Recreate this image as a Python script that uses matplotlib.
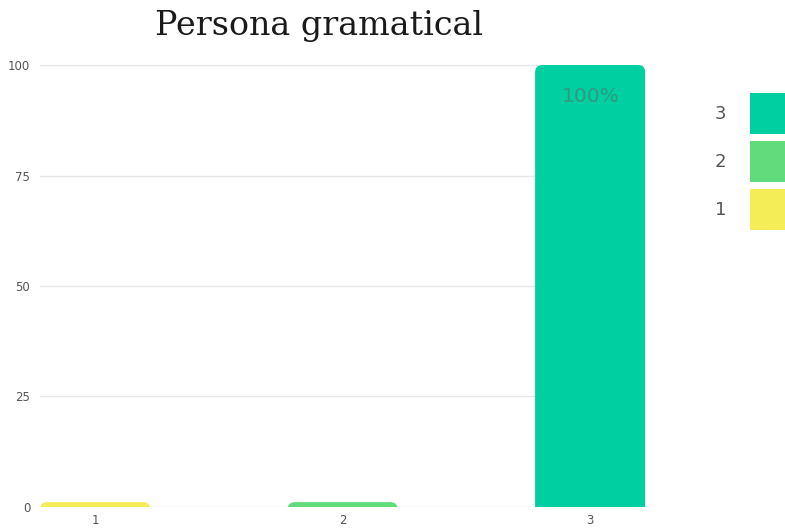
import matplotlib
matplotlib.use("Agg")
import matplotlib.pyplot as plt
from matplotlib.patches import FancyBboxPatch, Patch

# Datos del gráfico
categorias = ["1", "2", "3"]
porcentajes = [0, 0, 100]
colores = ["#f4ed58", "#62db7c", "#00cfa1"]
yticks = [0, 25, 50, 75, 100]

TEXTO_TICKS = "#555555"

fig = plt.figure(figsize=(7.85, 5.29), dpi=100)
ax = fig.add_axes([0.051, 0.0416, 0.771, 0.8355])

x = list(range(1, len(categorias) + 1))
ancho = 0.445
# altura mínima para que las barras a cero se sigan viendo
altura_min = 1.1
alturas = [max(v, altura_min) for v in porcentajes]

bars = ax.bar(x, alturas, width=ancho, color=colores, zorder=2)
for rect, color in zip(bars, colores):
    rect.set_visible(False)
    # barra con esquinas redondeadas; se prolonga bajo el cero para que abajo quede recta
    caja = FancyBboxPatch(
        (rect.get_x(), -4), rect.get_width(), rect.get_height() + 4,
        boxstyle="round,pad=0,rounding_size=0.03",
        mutation_aspect=55, facecolor=color, edgecolor="none", zorder=2,
    )
    ax.add_patch(caja)

for xi, v in zip(x, porcentajes):
    if v > 0:
        ax.text(xi, v - 7.2, f"{v}%", ha="center", va="center",
                fontsize=14.5, color="#2f9a80", zorder=3)

ax.set_xlim(1 - ancho / 2, 3 + ancho / 2)
ax.set_ylim(0, 100)
ax.set_yticks(yticks)
ax.set_xticks(x)
ax.set_xticklabels(categorias)
ax.tick_params(axis="both", length=0, labelsize=8.5, colors=TEXTO_TICKS)
ax.tick_params(axis="y", pad=7)
ax.tick_params(axis="x", pad=5)
ax.grid(True, axis="y", color="#e6e6e6", linewidth=1, zorder=0)
for s in ax.spines.values():
    s.set_visible(False)

fig.text(0.407, 0.950, "Persona gramatical", ha="center", va="center",
         fontsize=24, family="DejaVu Serif", color="#1a1a1a")

handles = [Patch(facecolor=c, edgecolor="none") for c in colores][::-1]
leg = ax.legend(handles, categorias[::-1], loc="upper left",
                bbox_to_anchor=(715 / 785, 1 - 93 / 529),
                bbox_transform=fig.transFigure, frameon=False,
                markerfirst=False, fontsize=13, handlelength=3.5,
                handleheight=3.1, labelspacing=0.4, handletextpad=1.3,
                borderpad=0, borderaxespad=0)
for t in leg.get_texts():
    t.set_color("#555555")

fig.savefig("out.png", dpi=100)
